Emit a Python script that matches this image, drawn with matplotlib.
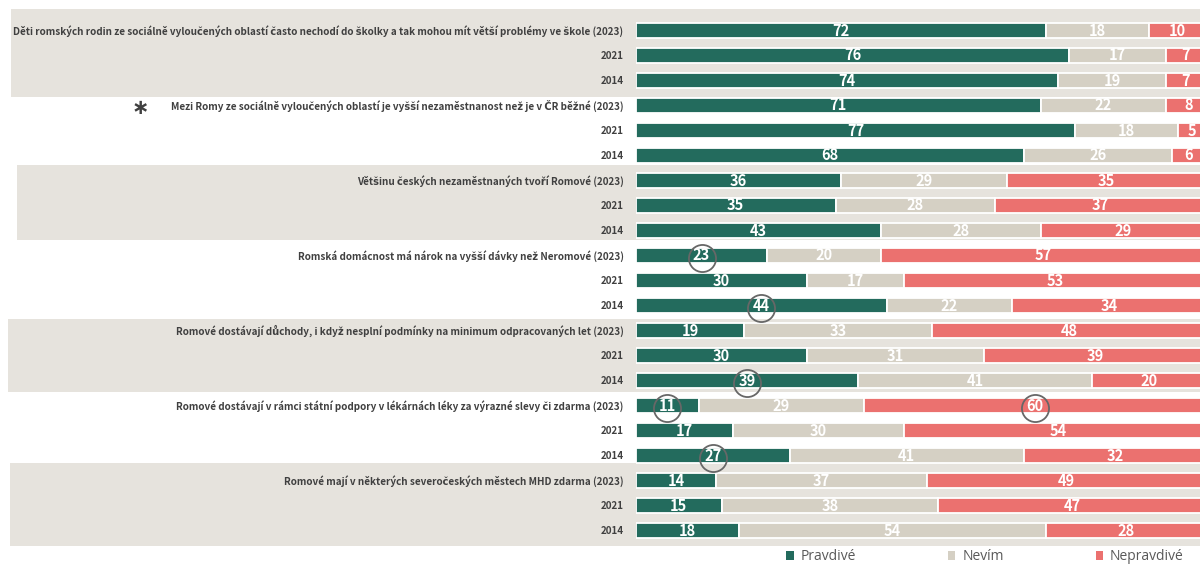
import matplotlib
matplotlib.use("Agg")
import matplotlib.pyplot as plt
from matplotlib.patches import Rectangle, Patch
from matplotlib.transforms import blended_transform_factory
import numpy as np

# ---------------- data ----------------
statements = [
    "Děti romských rodin ze sociálně vyloučených oblastí často nechodí do školky a tak mohou mít větší problémy ve škole",
    "Mezi Romy ze sociálně vyloučených oblastí je vyšší nezaměstnanost než je v ČR běžné",
    "Většinu českých nezaměstnaných tvoří Romové",
    "Romská domácnost má nárok na vyšší dávky než Neromové",
    "Romové dostávají důchody, i když nesplní podmínky na minimum odpracovaných let",
    "Romové dostávají v rámci státní podpory v lékárnách léky za výrazné slevy či zdarma",
    "Romové mají v některých severočeských městech MHD zdarma",
]
years = ["2023", "2021", "2014"]
pravdive = [72, 76, 74, 71, 77, 68, 36, 35, 43, 23, 30, 44, 19, 30, 39, 11, 17, 27, 14, 15, 18]
nevim = [18, 17, 19, 22, 18, 26, 29, 28, 28, 20, 17, 22, 33, 31, 41, 29, 30, 41, 37, 38, 54]
nepravdive = [10, 7, 7, 8, 5, 6, 35, 37, 29, 57, 53, 34, 48, 39, 20, 60, 54, 32, 49, 47, 28]
series_names = ["Pravdivé", "Nevím", "Nepravdivé"]
circled = [(9, 0), (11, 0), (14, 0), (15, 0), (15, 2), (17, 0)]  # (row, series index)
shaded_groups = [0, 2, 4, 6]
asterisk_group = 1

# ---------------- style ----------------
colors = ["#236B5D", "#D5D0C4", "#EB716F"]
band_color = "#E6E3DD"
text_color = "#404040"
label_font = ["Noto Sans CJK SC", "DejaVu Sans"]

W, H = 1200, 565
fig = plt.figure(figsize=(W / 100, H / 100), dpi=100)
x0_px = 636
px_per_unit = 5.7
row0_px, row_step = 30, 25
ax = fig.add_axes([x0_px / W, 0, (W - x0_px) / W, 1])
ax.patch.set_visible(False)
ax.set_xlim(0, (W - x0_px) / px_per_unit)
ax.set_ylim((H - row0_px) / row_step, -row0_px / row_step)

row_labels = []
for s in statements:
    row_labels += [f"{s} ({years[0]})", years[1], years[2]]
n = len(row_labels)
y = np.arange(n)

# shaded bands (row span per shaded group, left edge in px)
band_geom = {0: (-0.84, 2.68, 11), 2: (5.4, 8.4, 17), 4: (11.56, 14.48, 8), 6: (17.32, 20.64, 10)}
btrans = blended_transform_factory(fig.transFigure, ax.transData)
for g in shaded_groups:
    y0, y1, xl = band_geom[g]
    r = Rectangle((xl / W, y0), 1 - xl / W, y1 - y0, transform=btrans,
                  facecolor=band_color, edgecolor="none", zorder=-5)
    fig.add_artist(r)

# stacked bars
vals = [np.array(pravdive), np.array(nevim), np.array(nepravdive)]
left = np.zeros(n)
lefts = []
for v, c, name in zip(vals, colors, series_names):
    ax.barh(y, v, left=left, height=0.6, color=c, edgecolor="white",
            linewidth=1.3, label=name, zorder=2)
    lefts.append(left.copy())
    for yi, (l, vv) in enumerate(zip(left, v)):
        ax.text(l + vv / 2, yi + 0.02, str(vv), ha="center", va="center",
                color="white", fontsize=10.5, fontweight="bold",
                family=label_font, zorder=4)
    left = left + v

# circles
for row, si in circled:
    cx = lefts[si][row] + vals[si][row] / 2
    ax.plot(cx, row + 0.1, "o", ms=19.5, mfc="none", mec="#676767", mew=1.3, zorder=5)

# y labels
ax.set_yticks(y)
ax.set_yticklabels(row_labels, fontsize=7.15, color=text_color, fontweight="bold",
                   family=label_font)
ax.tick_params(axis="y", length=0, pad=9)
ax.tick_params(axis="x", bottom=False, labelbottom=False)
for sp in ax.spines.values():
    sp.set_visible(False)

# asterisk
ax.text(140 / W, asterisk_group * 3 + 0.1, "∗", transform=btrans, ha="center",
        va="center", fontsize=15, fontweight="bold", color=text_color)

# legend
handles = [Patch(facecolor=c, edgecolor="none") for c in colors]
fig.legend(handles, series_names, ncol=3, loc="center",
           bbox_to_anchor=(985 / W, 1 - 557 / H), frameon=False,
           prop={"family": ["Open Sans", "DejaVu Sans"], "size": 10},
           labelcolor="#595959", handlelength=0.55, handleheight=0.55,
           handletextpad=0.5, columnspacing=6.6)

fig.savefig("out.png", dpi=100)
